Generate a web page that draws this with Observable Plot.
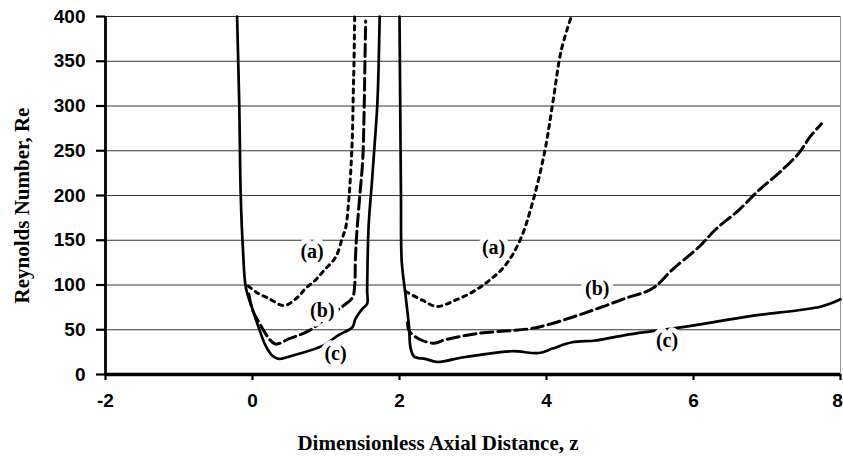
<!DOCTYPE html>
<html>
<head>
<meta charset="utf-8">
<script src="https://cdn.jsdelivr.net/npm/d3@7"></script>
<script src="https://cdn.jsdelivr.net/npm/@observablehq/plot@0.6"></script>
<style>
  html, body { margin: 0; padding: 0; background: #fff; }
  svg { display: block; }
</style>
</head>
<body>
<script>
// Axis ticks
const zTicks = [-2, 0, 2, 4, 6, 8];
const reTicks = [0, 50, 100, 150, 200, 250, 300, 350, 400];
const gridTicks = [50, 100, 150, 200, 250, 300, 350, 400];

// Curve (a): first section (upstream of z = 2) and second section
const aLeftZ  = [-0.06, 0.05, 0.22, 0.43, 0.61, 0.72, 0.85, 0.97, 1.13, 1.22, 1.27, 1.31, 1.34, 1.36, 1.37, 1.38, 1.39];
const aLeftRe = [99, 92, 85, 77, 86, 96, 105, 116, 131, 152, 165, 195, 232, 270, 310, 345, 400];
const aRightZ  = [2.08, 2.31, 2.51, 2.76, 2.99, 3.22, 3.44, 3.64, 3.82, 3.98, 4.09, 4.20, 4.33];
const aRightRe = [93, 83, 76, 83, 92, 105, 122, 150, 195, 251, 306, 362, 398];

// Curve (b)
const bLeftZ  = [-0.05, 0.00, 0.09, 0.20, 0.31, 0.50, 0.77, 1.00, 1.24, 1.36, 1.39, 1.40, 1.42, 1.46, 1.50, 1.52, 1.53, 1.54];
const bLeftRe = [90, 72, 58, 43, 34, 40, 49, 63, 77, 86, 99, 129, 159, 200, 240, 300, 350, 395];
const bRightZ  = [2.11, 2.13, 2.26, 2.47, 2.63, 3.08, 3.76, 3.99, 4.35, 4.67, 5.07, 5.44, 5.71, 6.08, 6.30, 6.62, 6.89, 7.16, 7.43, 7.59, 7.74];
const bRightRe = [58, 49, 40, 35, 39, 46, 51, 55, 64, 73, 85, 96, 117, 143, 162, 184, 206, 225, 247, 266, 280];

// Curve (c)
const cLeftZ  = [-0.21, -0.18, -0.16, -0.13, -0.09, 0.00, 0.09, 0.18, 0.27, 0.36, 0.54, 0.95, 1.17, 1.36, 1.40, 1.49, 1.56, 1.56, 1.58, 1.62, 1.66, 1.70, 1.73];
const cLeftRe = [400, 300, 200, 140, 97, 73, 51, 32, 21, 17.5, 21, 32, 44, 53, 62, 73, 79, 94, 166, 210, 255, 305, 400];
const cRightZ  = [2.00, 2.01, 2.02, 2.03, 2.08, 2.13, 2.15, 2.20, 2.35, 2.51, 2.85, 3.10, 3.53, 3.90, 4.08, 4.35, 4.67, 5.07, 5.40, 5.94, 6.75, 7.74, 8.00];
const cRightRe = [400, 300, 200, 127, 90, 53, 30, 20, 17.5, 14, 19, 22, 26, 24, 29, 36, 38, 44, 48, 54, 65, 76, 84];

// Curve labels
const labelText = ["(a)", "(b)", "(c)", "(a)", "(b)", "(c)"];
const labelZ  = [0.81, 0.95, 1.13, 3.28, 4.69, 5.64];
const labelRe = [137, 71, 23, 142, 96, 38];

function rows(series, part, zs, res) {
  return zs.map((z, i) => ({series, part, z, re: res[i]}));
}

const curves = [
  ...rows("a", "a1", aLeftZ, aLeftRe), ...rows("a", "a2", aRightZ, aRightRe),
  ...rows("b", "b1", bLeftZ, bLeftRe), ...rows("b", "b2", bRightZ, bRightRe),
  ...rows("c", "c1", cLeftZ, cLeftRe), ...rows("c", "c2", cRightZ, cRightRe)
];
const labels = labelText.map((t, i) => ({t, z: labelZ[i], re: labelRe[i]}));

const serif = "'Liberation Serif', 'Times New Roman', serif";
const sans = "'Liberation Sans', Arial, sans-serif";
const tickFont = {fontFamily: sans, fontSize: 19, fontWeight: "bold", fill: "#000"};

const chart = Plot.plot({
  width: 843,
  height: 458,
  marginLeft: 105,
  marginRight: 3,
  marginTop: 16,
  marginBottom: 84,
  style: {fontFamily: sans, background: "#fff", color: "#000"},
  x: {domain: [-2, 8]},
  y: {domain: [0, 400]},
  marks: [
    Plot.gridY(gridTicks, {stroke: "#000", strokeOpacity: 0.8, strokeWidth: 1}),
    Plot.ruleX([8], {stroke: "#999", strokeWidth: 1}),
    Plot.line(curves.filter(d => d.series === "c"), {x: "z", y: "re", z: "part", stroke: "#000", strokeWidth: 2.7, curve: "catmull-rom"}),
    Plot.line(curves.filter(d => d.series === "b"), {x: "z", y: "re", z: "part", stroke: "#000", strokeWidth: 3, strokeDasharray: "12,5", curve: "catmull-rom"}),
    Plot.line(curves.filter(d => d.series === "a"), {x: "z", y: "re", z: "part", stroke: "#000", strokeWidth: 3, strokeDasharray: "4,5", curve: "catmull-rom"}),
    Plot.text(labels, {x: "z", y: "re", text: "t", fontFamily: serif, fontWeight: "bold", fontSize: 20, fill: "#000", stroke: "#fff", strokeWidth: 10, strokeLinejoin: "round"}),
    Plot.ruleY([0], {stroke: "#000", strokeWidth: 3.4}),
    Plot.ruleX([-2], {stroke: "#000", strokeWidth: 2.8}),
    // y axis: ticks plus plain numeric labels
    Plot.axisY(reTicks, {tickSize: 9, tickPadding: 11, strokeWidth: 2.2, ...tickFont, label: null}),
    // x axis: tick marks, then labels written with an ASCII hyphen; the last label is nudged inside the edge
    Plot.axisX(zTicks, {tickSize: 6, text: null, strokeWidth: 2.2, label: null}),
    Plot.text(zTicks.filter(d => d < 8), {x: d => d, frameAnchor: "bottom", dy: 26, text: d => String(d), lineAnchor: "middle", ...tickFont}),
    Plot.text(zTicks.filter(d => d === 8), {x: d => d, frameAnchor: "bottom", dy: 26, dx: -3, text: d => String(d), lineAnchor: "middle", ...tickFont}),
    Plot.text(["Reynolds Number, Re"], {frameAnchor: "left", rotate: -90, dx: -83, dy: 10, text: d => d, textAnchor: "middle", lineAnchor: "middle", fontFamily: serif, fontWeight: "bold", fontSize: 21, fill: "#000"}),
    Plot.text(["Dimensionless Axial Distance, z"], {frameAnchor: "bottom", dx: -35, dy: 69, text: d => d, textAnchor: "middle", lineAnchor: "middle", fontFamily: serif, fontWeight: "bold", fontSize: 21, fill: "#000"})
  ]
});
document.body.appendChild(chart);
</script>
</body>
</html>
